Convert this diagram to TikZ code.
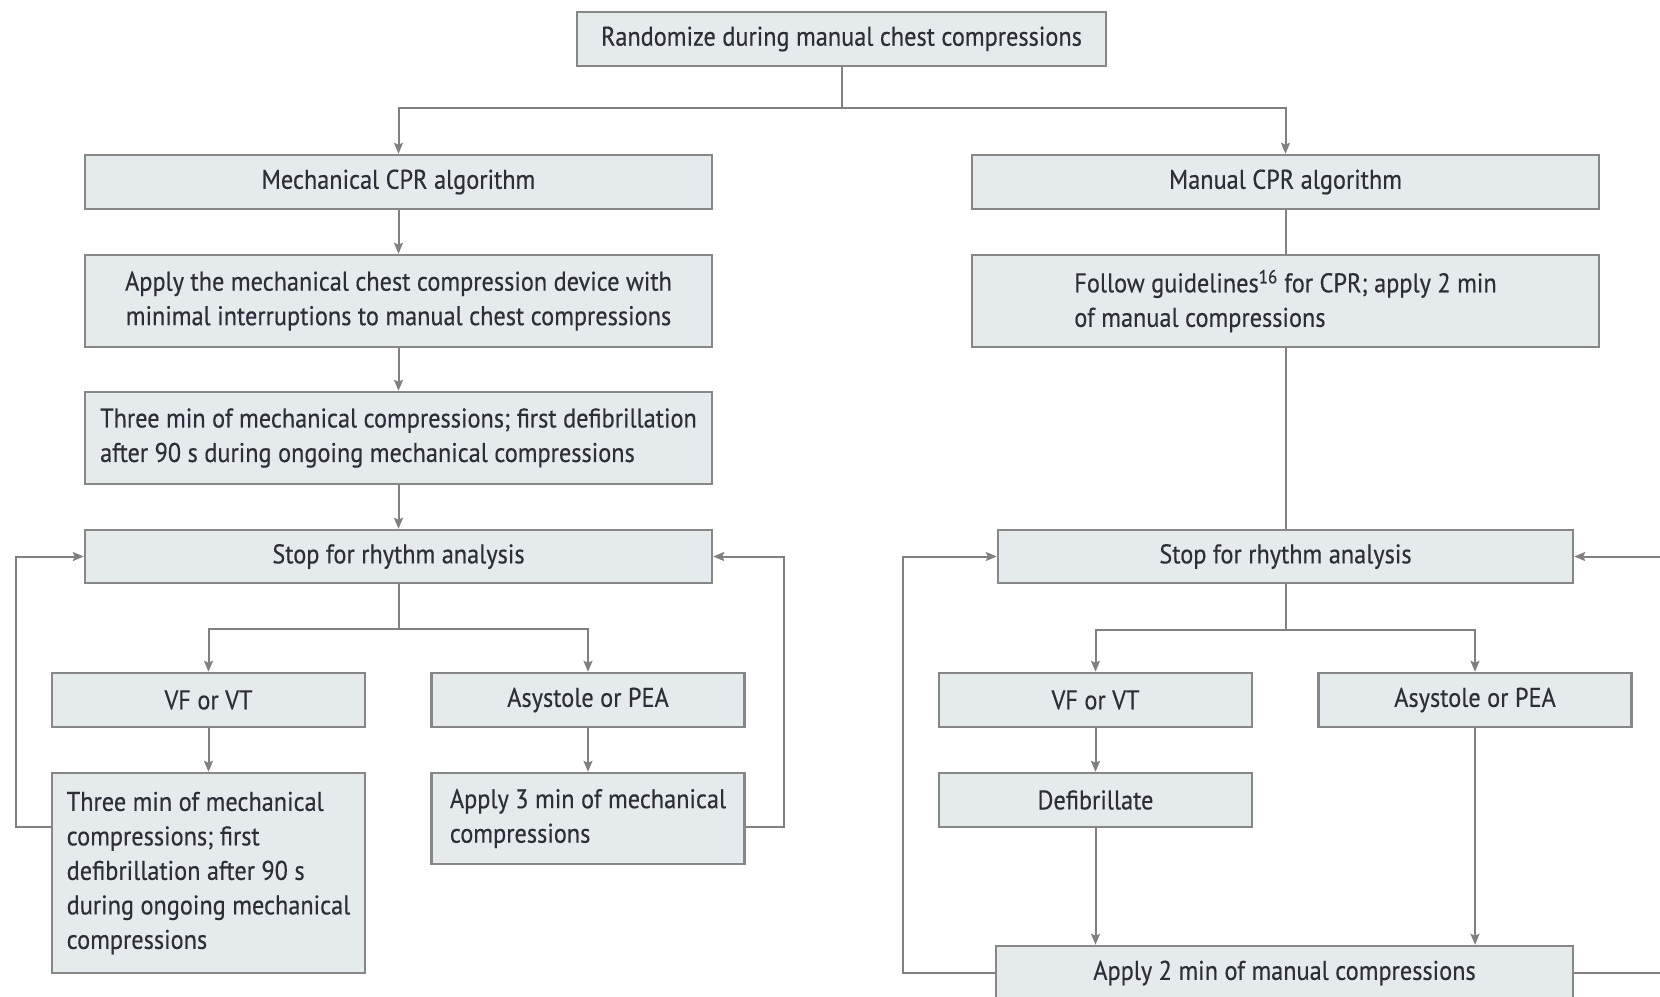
\documentclass[tikz,border=0pt]{standalone}
\usepackage{fontspec}
\setmainfont{PT Sans}[FakeStretch=0.9,FakeBold=0.4]
\usetikzlibrary{arrows.meta}
\definecolor{boxfill}{HTML}{E5EAEC}
\definecolor{boxline}{HTML}{878787}
\definecolor{conn}{HTML}{808080}
\definecolor{txt}{HTML}{2E2E38}
\tikzset{
  box/.style={draw=boxline, fill=boxfill, line width=2.4pt, inner sep=0pt,
    text=txt, font=\fontsize{27}{34.5}\selectfont, align=center,
    minimum height=54pt},
  wbig/.style={minimum width=627pt},
  wsmall/.style={minimum width=313pt},
  arr/.style={draw=conn, line width=2pt, -{Stealth[length=11pt,width=9pt,inset=2pt]}},
  ln/.style={draw=conn, line width=2pt}
}
\begin{document}
\begin{tikzpicture}[x=1pt,y=-1pt]
\useasboundingbox (0,0) rectangle (1660,996);
\fill[white] (0,0) rectangle (1660,996);
\clip (0,0) rectangle (1660,996);

\node[box, minimum width=529pt] (top) at (841.5,39) {Randomize during manual chest compressions};
\node[box, wbig] (mech) at (398.5,182) {Mechanical CPR algorithm};
\node[box, wbig] (manual) at (1285.5,182) {Manual CPR algorithm};
\node[box, wbig, minimum height=92pt] (apply) at (398.5,301) {Apply the mechanical chest compression device with\\minimal interruptions to manual chest compressions};
\node[box, wbig, minimum height=92pt, align=left] (follow) at (1285.5,301) {Follow guidelines\textsuperscript{16} for CPR; apply 2 min\\of manual compressions};
\node[box, wbig, minimum height=92pt, align=left] (three) at (398.5,438) {Three min of mechanical compressions; first defibrillation\\after 90 s during ongoing mechanical compressions};
\node[box, wbig, minimum height=53pt] (stopL) at (398.5,556.5) {Stop for rhythm analysis};
\node[box, minimum width=575pt, minimum height=53pt] (stopR) at (1285.5,556.5) {Stop for rhythm analysis};
\node[box, wsmall] (vfL) at (208.5,700) {VF or VT};
\node[box, wsmall] (asyL) at (588,700) {Asystole or PEA};
\node[box, wsmall, minimum height=200pt, align=left] (threeL) at (208.5,873) {Three min of mechanical\\compressions; first\\defibrillation after 90 s\\during ongoing mechanical\\compressions};
\node[box, wsmall, minimum height=91pt, align=left] (apply3) at (588,818.5) {Apply 3 min of mechanical\\compressions};
\node[box, wsmall] (vfR) at (1095.5,700) {VF or VT};
\node[box, wsmall] (asyR) at (1475,700) {Asystole or PEA};
\node[box, wsmall] (defib) at (1095.5,800) {Defibrillate};
\node[box, minimum width=577pt] (apply2) at (1284.5,973) {Apply 2 min of manual compressions};

% junctions
\coordinate (j1) at (841.5,108);
\coordinate (j2) at (398.5,629);
\coordinate (j3) at (1285.5,630);
\coordinate (loopL) at (16,827);
\coordinate (loopR) at (783.5,827);
\coordinate (loopRL) at (903,973);
\coordinate (loopRR) at (1720,973);

\draw[ln] (top.south) -- (j1);
\draw[arr] (j1) -| (mech.north);
\draw[arr] (j1) -| (manual.north);
\draw[arr] (mech) -- (apply);
\draw[arr] (apply) -- (three);
\draw[arr] (three) -- (stopL);
\draw[ln] (manual) -- (follow);
\draw[ln] (follow) -- (stopR);

\draw[ln] (stopL.south) -- (j2);
\draw[arr] (j2) -| (vfL.north);
\draw[arr] (j2) -| (asyL.north);
\draw[arr] (vfL) -- (threeL);
\draw[arr] (asyL) -- (apply3);
\draw[arr] (threeL.west |- loopL) -- (loopL) |- (stopL.west);
\draw[arr] (apply3.east |- loopR) -- (loopR) |- (stopL.east);

\draw[ln] (stopR.south) -- (j3);
\draw[arr] (j3) -| (vfR.north);
\draw[arr] (j3) -| (asyR.north);
\draw[arr] (vfR) -- (defib);
\draw[arr] (defib.south) -- (defib.south |- apply2.north);
\draw[arr] (asyR.south) -- (asyR.south |- apply2.north);
\draw[arr] (apply2.west) -- (loopRL) |- (stopR.west);
\draw[arr] (apply2.east) -- (loopRR) |- (stopR.east);
\end{tikzpicture}
\end{document}
